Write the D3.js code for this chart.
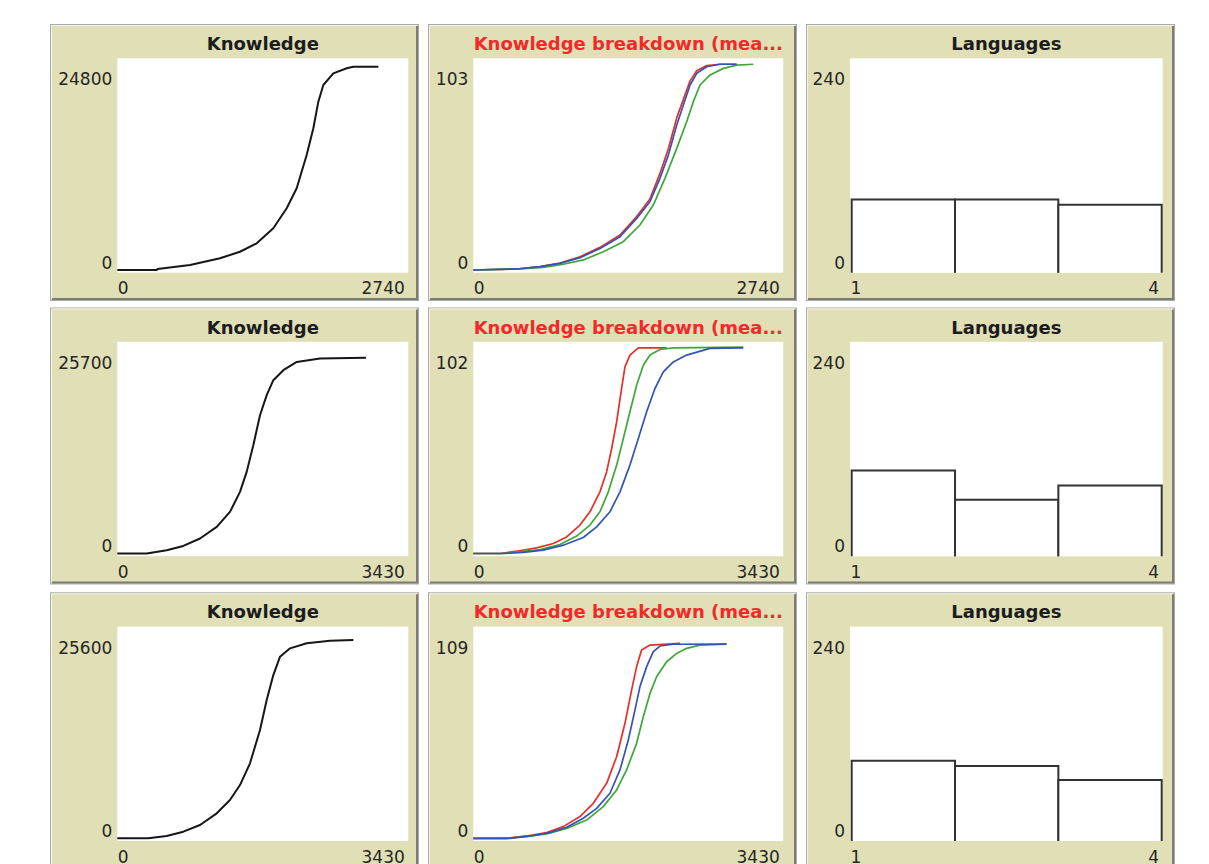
<!DOCTYPE html>
<html>
<head>
<meta charset="utf-8">
<script src="https://cdn.jsdelivr.net/npm/d3@7"></script>
<style>
  html, body { margin: 0; padding: 0; background: #ffffff; overflow: hidden; }
  svg { display: block; }
</style>
</head>
<body>
<svg id="chart" width="1209" height="864"></svg>
<script>
// ---- Recorded model output: one run per row -------------------------------

// Total knowledge over time, [tick, knowledge]
const knowledgeRun1 = [[0,0],[371,0],[380,120],[685,590],[967,1370],[1155,2140],[1313,3130],[1469,4890],[1595,7230],[1689,9570],[1783,13470],[1846,16600],[1893,19720],[1940,21670],[2034,23040],[2160,23630],[2222,23820],[2458,23820]];
const knowledgeRun2 = [[0,0],[347,0],[582,400],[778,920],[975,1820],[1172,3230],[1328,5050],[1446,7480],[1525,9910],[1603,13150],[1682,16790],[1761,19220],[1839,21040],[1957,22250],[2115,23260],[2389,23670],[2931,23750]];
const knowledgeRun3 = [[0,0],[365,0],[582,280],[778,800],[975,1610],[1172,3020],[1328,4630],[1446,6440],[1564,9070],[1682,13090],[1761,16720],[1839,19740],[1918,21960],[2036,22970],[2232,23580],[2507,23890],[2782,23980]];

// Mean knowledge per language group, [tick, mean]
const breakdownRun1Red   = [[0,0],[384,0.5],[590,1.7],[767,3.4],[943,6.4],[1120,11.0],[1297,17.0],[1444,26.0],[1561,34.5],[1650,47.0],[1724,59.0],[1798,74.0],[1857,83.0],[1916,92.0],[1975,97.0],[2063,99.5],[2181,100.1],[2328,100.1]];
const breakdownRun1Green = [[0,0],[414,0.5],[619,1.3],[796,2.8],[973,4.9],[1149,8.9],[1326,13.8],[1473,21.9],[1591,31.6],[1694,44.6],[1798,59.2],[1886,72.1],[1945,81.9],[2004,90.0],[2093,94.9],[2210,98.1],[2328,99.7],[2475,100.1]];
const breakdownRun1Blue  = [[0,0],[384,0.5],[590,1.6],[767,3.2],[943,6.0],[1120,10.5],[1297,16.2],[1444,25.1],[1561,33.2],[1650,44.6],[1724,55.9],[1798,70.5],[1857,80.3],[1916,90.0],[1975,95.7],[2063,98.9],[2181,100.1],[2328,100.1]];

const breakdownRun2Red   = [[0,0],[295,0],[479,1.1],[701,2.7],[885,4.8],[1033,8.0],[1180,13.7],[1291,20.1],[1401,29.7],[1475,39.3],[1531,50.6],[1586,63.4],[1641,79.5],[1678,89.9],[1733,95.6],[1826,99.1],[2139,99.1]];
const breakdownRun2Green = [[0,0],[332,0],[516,0.8],[738,1.9],[959,4.3],[1143,8.4],[1291,13.7],[1401,20.1],[1494,29.7],[1586,42.6],[1660,55.4],[1733,68.3],[1807,81.1],[1881,90.7],[1955,95.6],[2065,98.3],[2213,99.1],[2987,99.4]];
const breakdownRun2Blue  = [[0,0],[332,0],[553,0.5],[774,1.6],[996,4.0],[1217,7.7],[1365,12.8],[1512,20.1],[1623,29.7],[1733,42.6],[1826,55.4],[1918,68.3],[2010,79.5],[2102,87.5],[2213,92.3],[2360,95.6],[2618,98.8],[2987,99.1]];

const breakdownRun3Red   = [[0,0],[369,0],[590,1.2],[811,2.9],[996,6.0],[1180,11.2],[1328,18.0],[1475,28.3],[1586,42.0],[1678,59.2],[1752,76.4],[1807,88.4],[1862,97.0],[1955,99.5],[2287,100.4]];
const breakdownRun3Green = [[0,0],[369,0],[590,0.9],[811,2.2],[1033,5.1],[1254,9.4],[1438,16.3],[1586,24.9],[1696,35.2],[1807,48.9],[1881,62.6],[1955,74.6],[2028,83.2],[2139,90.9],[2250,95.2],[2360,97.8],[2508,99.5],[2803,100.0]];
const breakdownRun3Blue  = [[0,0],[406,0],[627,1.2],[848,2.9],[1033,5.7],[1217,10.3],[1365,15.4],[1512,23.2],[1623,35.2],[1715,50.6],[1789,66.1],[1844,78.1],[1918,88.4],[1992,96.1],[2065,99.0],[2213,99.9],[2803,100.0]];

// Agents per number of languages spoken (bins 1-2, 2-3, 3-4)
const languageBins = [1, 2, 3];
const languageCountsRun1 = [80, 80, 74];
const languageCountsRun2 = [94, 61, 77];
const languageCountsRun3 = [88, 82, 66];

// Axis bounds shown on each plot
const plotTitles = ["Knowledge", "Knowledge breakdown (mea...", "Languages"];
const tickMaxX = [2740, 3430, 3430];
const knowledgeYMax = [24800, 25700, 25600];
const breakdownYMax = [103, 102, 109];
const languageXRange = [1, 4];
const languageYMax = 240;

// ---- Layout ---------------------------------------------------------------
const panelX = [50, 428, 806];
const panelY = [24, 307.5, 592.3];
const panelW = 369, panelH = 277;
const plotLeft  = [117.3, 473.3, 850];
const plotRight = [408.3, 783.3, 1162.7];
const plotTopOff = 34.3, plotBottomOff = 248.7, zeroOff = 246;

const TAN = "#e0dfb5";
const penColor = { red: "#e3302a", green: "#3fa63a", blue: "#3553b3" };
const labelFont = "'DejaVu Sans', Verdana, sans-serif";

const svg = d3.select("#chart");

const knowledgeRuns = [knowledgeRun1, knowledgeRun2, knowledgeRun3];
const breakdownRuns = [
  { red: breakdownRun1Red, green: breakdownRun1Green, blue: breakdownRun1Blue },
  { red: breakdownRun2Red, green: breakdownRun2Green, blue: breakdownRun2Blue },
  { red: breakdownRun3Red, green: breakdownRun3Green, blue: breakdownRun3Blue }
];
const languageRuns = [languageCountsRun1, languageCountsRun2, languageCountsRun3];

function drawFrame(g, x, y) {
  // bevelled widget border
  g.append("rect").attr("x", x + 0.5).attr("y", y + 0.5)
    .attr("width", panelW - 1).attr("height", panelH - 1)
    .attr("fill", TAN).attr("stroke", "#a9a9a9").attr("stroke-width", 1);
  g.append("path")
    .attr("d", `M${x + 1.5},${y + panelH - 2} V${y + 1.5} H${x + panelW - 2}`)
    .attr("fill", "none").attr("stroke", "#f4f4ec").attr("stroke-width", 1);
  g.append("path")
    .attr("d", `M${x + 2},${y + panelH - 2} H${x + panelW - 2} V${y + 2}`)
    .attr("fill", "none").attr("stroke", "#7c7c72").attr("stroke-width", 2);
}

function drawAxes(g, xs, ys, r, c, xDomain, yMax, title, titleColor) {
  const y0 = panelY[r];
  // plot area
  g.append("rect").attr("x", plotLeft[c]).attr("y", y0 + plotTopOff)
    .attr("width", plotRight[c] - plotLeft[c]).attr("height", plotBottomOff - plotTopOff)
    .attr("fill", "#ffffff");

  // title
  g.append("text")
    .attr("x", (plotLeft[c] + plotRight[c]) / 2).attr("y", y0 + 26)
    .attr("text-anchor", "middle")
    .attr("font-family", labelFont).attr("font-weight", "bold").attr("font-size", 18)
    .attr("fill", titleColor).text(title);

  // y axis: min and max only
  const ya = g.append("g").attr("transform", `translate(${plotLeft[c]},0)`)
    .call(d3.axisLeft(ys).tickValues([0, yMax]).tickSize(0).tickPadding(5).tickFormat(d3.format("d")));
  ya.select(".domain").remove();
  ya.selectAll("text")
    .attr("font-family", labelFont).attr("font-size", 17).attr("fill", "#262626")
    .attr("dy", 0)
    .attr("y", d => d === 0 ? (y0 + 244.3) - ys(0) : (y0 + 60.8) - ys(yMax));

  // x axis: min and max only
  const xa = g.append("g").attr("transform", `translate(0,${y0 + plotBottomOff})`)
    .call(d3.axisBottom(xs).tickValues(xDomain).tickSize(0).tickFormat(d3.format("d")));
  xa.select(".domain").remove();
  xa.selectAll("text")
    .attr("font-family", labelFont).attr("font-size", 17).attr("fill", "#262626")
    .attr("dy", 0).attr("y", 21.5)
    .attr("text-anchor", (d, i) => i === 0 ? "start" : "end")
    .attr("x", (d, i) => i === 0 ? plotLeft[c] - xs(d) : (plotRight[c] - 4) - xs(d));
}

for (let r = 0; r < 3; r++) {
  const y0 = panelY[r];
  const yRange = [y0 + zeroOff, y0 + plotTopOff];

  // --- Knowledge ---
  {
    const c = 0, g = svg.append("g");
    drawFrame(g, panelX[c], y0);
    const xs = d3.scaleLinear().domain([0, tickMaxX[r]]).range([plotLeft[c], plotRight[c]]);
    const ys = d3.scaleLinear().domain([0, knowledgeYMax[r]]).range(yRange);
    drawAxes(g, xs, ys, r, c, [0, tickMaxX[r]], knowledgeYMax[r], plotTitles[0], "#1c1c1c");
    const line = d3.line().x(d => xs(d[0])).y(d => ys(d[1]));
    g.append("path").datum(knowledgeRuns[r]).attr("d", line)
      .attr("fill", "none").attr("stroke", "#161616").attr("stroke-width", 2)
      .attr("stroke-linejoin", "round");
  }

  // --- Knowledge breakdown ---
  {
    const c = 1, g = svg.append("g");
    drawFrame(g, panelX[c], y0);
    const xs = d3.scaleLinear().domain([0, tickMaxX[r]]).range([plotLeft[c], plotRight[c]]);
    const ys = d3.scaleLinear().domain([0, breakdownYMax[r]]).range(yRange);
    drawAxes(g, xs, ys, r, c, [0, tickMaxX[r]], breakdownYMax[r], plotTitles[1], "#f02a2a");
    const line = d3.line().x(d => xs(d[0])).y(d => ys(d[1]));
    ["red", "green", "blue"].forEach(p => {
      g.append("path").datum(breakdownRuns[r][p]).attr("d", line)
        .attr("fill", "none").attr("stroke", penColor[p]).attr("stroke-width", 1.7)
        .attr("stroke-linejoin", "round");
    });
  }

  // --- Languages histogram ---
  {
    const c = 2, g = svg.append("g");
    drawFrame(g, panelX[c], y0);
    const xs = d3.scaleLinear().domain(languageXRange).range([plotLeft[c] + 1.7, plotRight[c] - 1]);
    const ys = d3.scaleLinear().domain([0, languageYMax]).range(yRange);
    drawAxes(g, xs, ys, r, c, languageXRange, languageYMax, plotTitles[2], "#1c1c1c");
    const base = y0 + plotBottomOff;
    g.selectAll("path.bar").data(languageBins).join("path").attr("class", "bar")
      .attr("d", (b, i) => {
        const x0 = xs(b), x1 = xs(b + 1), top = ys(languageRuns[r][i]);
        return `M${x0},${base} V${top} H${x1} V${base}`;
      })
      .attr("fill", "#ffffff").attr("stroke", "#333333").attr("stroke-width", 2);
  }
}
</script>
</body>
</html>
